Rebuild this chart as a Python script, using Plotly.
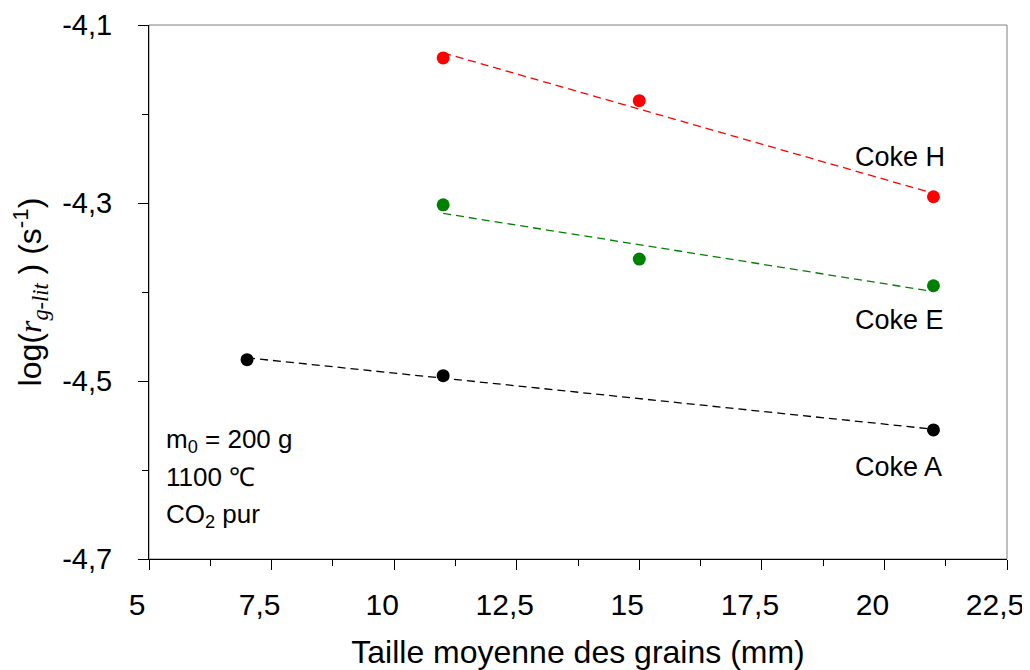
import numpy as np
import plotly.graph_objects as go

# Data
x_H = [11, 15, 21]
y_H = [-4.137, -4.185, -4.293]
x_E = [11, 15, 21]
y_E = [-4.302, -4.363, -4.393]
x_A = [7, 11, 21]
y_A = [-4.476, -4.494, -4.555]

x_ticks = [5, 7.5, 10, 12.5, 15, 17.5, 20, 22.5]
y_ticks = [-4.7, -4.5, -4.3, -4.1]

series = [
    ("Coke H", x_H, y_H, "#ff0000"),
    ("Coke E", x_E, y_E, "#008000"),
    ("Coke A", x_A, y_A, "#000000"),
]

FONT = "Liberation Sans, Arial, sans-serif"

fig = go.Figure()
for name, xs, ys, col in series:
    k, b = np.polyfit(xs, ys, 1)
    xl = [min(xs), max(xs)]
    yl = [k * v + b for v in xl]
    fig.add_trace(go.Scatter(x=xl, y=yl, mode="lines",
                             line=dict(color=col, width=1.3, dash="8px,5px"),
                             showlegend=False, hoverinfo="skip"))
    fig.add_trace(go.Scatter(x=xs, y=ys, mode="markers", name=name,
                             marker=dict(color=col, size=13),
                             showlegend=False))

# page offset (body margin)
OFF = 8
W, H = 1030 - OFF, 670 - OFF
# target plot area in window pixels: 149..1007 x, 25..559 y
L, R, T, B = 149 - OFF, 1030 - 1007, 25 - OFF, 670 - 559
pw, ph = W - L - R, H - T - B

ann = [
    ("Coke H", 853, 157, 27),
    ("Coke E", 853, 320, 27),
    ("Coke A", 853, 467, 27),
    ("m<sub>0</sub> = 200 g", 164, 440, 26),
    ("1100 ℃", 164, 477, 26),
    ("CO<sub>2</sub> pur", 164, 515, 26),
]
annotations = []
for text, px, py, fs in ann:
    annotations.append(dict(
        text=text, xref="paper", yref="paper",
        x=(px - OFF - L) / pw, y=1 - (py - OFF - T) / ph,
        xanchor="left", yanchor="middle", showarrow=False,
        font=dict(family=FONT, size=fs, color="black")))

fig.update_layout(
    width=W, height=H,
    margin=dict(l=L, r=R, t=T, b=B),
    paper_bgcolor="white", plot_bgcolor="white",
    separators=", ",
    font=dict(family=FONT, color="black"),
    annotations=annotations,
    shapes=[dict(type="rect", xref="paper", yref="paper", x0=0, y0=0, x1=1, y1=1,
                 line=dict(color="#808080", width=1), layer="below")],
    xaxis=dict(
        range=[5, 22.5], tickvals=x_ticks, ticktext=[str(v).replace(".", ",") for v in x_ticks],
        showgrid=False, zeroline=False, showline=True, linecolor="black", linewidth=1,
        ticks="outside", ticklen=10, tickcolor="black", automargin=False,
        ticklabeloverflow="allow", ticklabelshift=-12,
        minor=dict(dtick=1.25, tick0=5, ticks="outside", ticklen=6, tickcolor="black", showgrid=False),
        tickfont=dict(size=30, family=FONT),
        ticklabelstandoff=9,
        title=dict(text="Taille moyenne des grains (mm)", font=dict(size=32, family=FONT), standoff=30),
    ),
    yaxis=dict(
        range=[-4.7, -4.1], tickvals=y_ticks, ticktext=[str(v).replace(".", ",") for v in y_ticks],
        showgrid=False, zeroline=False, showline=True, linecolor="black", linewidth=1,
        ticks="outside", ticklen=10, tickcolor="black", automargin=False,
        ticklabeloverflow="allow",
        minor=dict(dtick=0.1, tick0=-4.7, ticks="outside", ticklen=6, tickcolor="black", showgrid=False),
        tickfont=dict(size=29, family=FONT),
        ticklabelstandoff=20,
        title=dict(text="log(<span style='font-family:Liberation Serif,Times New Roman,serif'><i>r<sub>g-lit</sub></i></span> ) (s<sup>-1</sup>)",
                   font=dict(size=32, family=FONT), standoff=20),
    ),
)

fig.write_html("out.html")
